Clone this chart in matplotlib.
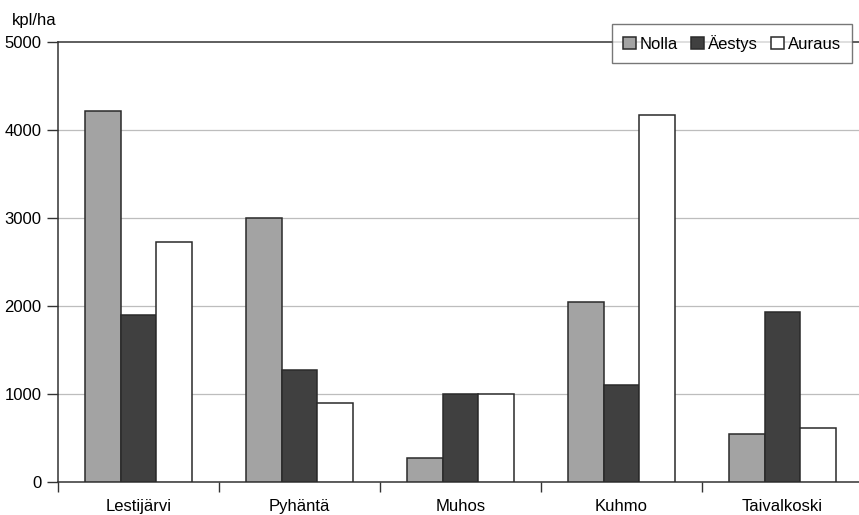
import matplotlib
matplotlib.use("Agg")
import matplotlib.pyplot as plt
import numpy as np

plt.rcParams['font.family'] = ['Liberation Sans', 'DejaVu Sans']

places = ["Lestijärvi", "Pyhäntä", "Muhos", "Kuhmo", "Taivalkoski"]
series_names = ["Nolla", "Äestys", "Auraus"]
nolla = [4210, 3000, 270, 2050, 550]
aestys = [1900, 1270, 1000, 1100, 1930]
auraus = [2730, 900, 1000, 4170, 610]
y_ticks = [0, 1000, 2000, 3000, 4000, 5000]

fig = plt.figure(figsize=(8.59, 5.15), dpi=100)
ax = fig.add_axes([0.0675, 0.0641, 0.937, 0.8544])

x = np.arange(len(places))
w = 0.222
fills = ['#a3a3a3', '#404040', '#ffffff']
for i, (vals, name, fc) in enumerate(zip([nolla, aestys, auraus], series_names, fills)):
    ax.bar(x + (i - 1) * w, vals, width=w, color=fc, edgecolor='#2a2a2a',
           linewidth=1.1, label=name, zorder=3)

ax.set_xlim(-0.5, len(places) - 0.5)
ax.set_ylim(0, 5000)
ax.set_yticks(y_ticks)
ax.set_yticklabels([str(v) for v in y_ticks], fontsize=12)
ax.set_xticks(x)
ax.set_xticklabels(places, fontsize=12)
ax.set_xticks(np.arange(len(places) + 1) - 0.5, minor=True)
ax.tick_params(axis='x', which='major', length=0, pad=12)
ax.tick_params(axis='x', which='minor', length=7, width=1, color='#333333', direction='out')
ax.tick_params(axis='y', length=8, width=1, color='#333333', pad=4)

for v in y_ticks[1:-1]:
    ax.axhline(v, color='#bdbdbd', linewidth=0.9, zorder=1)

ax.spines['right'].set_visible(False)
for s in ['left', 'bottom', 'top']:
    ax.spines[s].set_color('#333333')
    ax.spines[s].set_linewidth(1.1)

fig.text(0.014, 0.945, "kpl/ha", fontsize=12, ha='left', va='bottom')

leg = ax.legend(loc='upper right', bbox_to_anchor=(0.9865, 1.04), ncol=3,
                fontsize=12, frameon=True, fancybox=False, edgecolor='#555555',
                handlelength=0.75, handleheight=0.75, handletextpad=0.25,
                columnspacing=0.8, borderpad=0.65, borderaxespad=0.0)
leg.get_frame().set_linewidth(1.0)
leg.set_zorder(5)

fig.savefig("out.png", dpi=100)
